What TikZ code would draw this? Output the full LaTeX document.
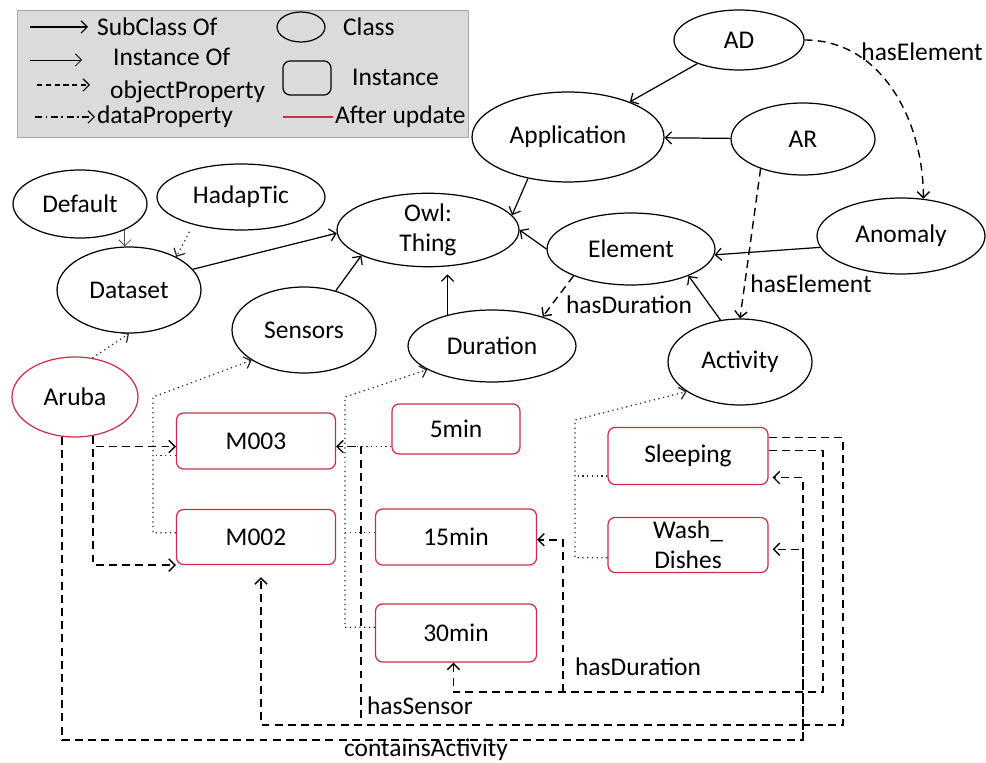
\documentclass[tikz,border=0pt]{standalone}
\usepackage{fontspec}
\setmainfont{Carlito}
\usepackage{tikz}
\usetikzlibrary{shapes}
\usetikzlibrary{calc}
\usetikzlibrary{arrows.meta}
\usetikzlibrary{positioning}
\definecolor{updred}{RGB}{205,45,70}

\begin{document}
\begin{tikzpicture}[x=0.02cm,y=-0.02cm,
    font=\fontsize{14.5}{17}\selectfont,
    >={Straight Barb[length=3.5pt,width=7pt]},
    cls/.style={ellipse,draw,line width=0.7pt,inner sep=0pt,align=center},
    inst/.style={rectangle,rounded corners=4pt,draw=updred,line width=0.7pt,
        inner sep=0pt,align=center},
    subcls/.style={->,line width=0.7pt},
    instof/.style={->,dotted,line width=0.7pt,black!85},
    objprop/.style={->,line width=0.8pt,dash pattern=on 4.5pt off 3pt},
    dataprop/.style={->,line width=0.7pt,dash pattern=on 4pt off 2pt on 1pt off 2pt},
    lbl/.style={inner sep=1pt}]
    \useasboundingbox (0,0) rectangle (986,763);

    % Legend
    \filldraw [fill=black!14,draw=black!35] (17,10) rectangle (468,137);
    \node [lbl,anchor=west] (lgsub) at (95,27) {SubClass Of};
    \node [lbl,anchor=west] (lginof) at (111,57) {Instance Of};
    \node [lbl,anchor=west] (lgobj) at (108,92) {objectProperty};
    \node [lbl,anchor=west] (lgdata) at (95,117) {dataProperty};
    \node [cls,minimum width=0.96cm,minimum height=0.6cm] (lgcls) at (301,27) {};
    \node [lbl,anchor=west] (lgclstxt) at (341,27) {Class};
    \node [inst,draw=black,minimum width=0.96cm,minimum height=0.68cm] (lginst) at (307,78) {};
    \node [lbl,anchor=west] (lginsttxt) at (350,77) {Instance};
    \node [lbl,anchor=west] (lgupd) at (333,117) {After update};
    \coordinate (lgsubs) at (30,27);
    \coordinate (lgsube) at (88,27);
    \coordinate (lginofs) at (30,60);
    \coordinate (lginofe) at (82,60);
    \coordinate (lgobjs) at (37,85);
    \coordinate (lgobje) at (90,85);
    \coordinate (lgdatas) at (35,117);
    \coordinate (lgupds) at (283,117);
    \draw [subcls] (lgsubs) -- (lgsube);
    \draw [->,line width=0.5pt] (lginofs) -- (lginofe);
    \draw [objprop,line width=0.7pt,dash pattern=on 3pt off 2pt] (lgobjs) -- (lgobje);
    \draw [dataprop] (lgdatas) -- (lgdata.west);
    \draw [updred,line width=0.8pt] (lgupds) -- (lgupd.west);

    % Classes
    \node [cls,minimum width=2.6cm,minimum height=1.2cm] (AD) at (739,40) {AD};
    \node [cls,minimum width=3.84cm,minimum height=1.8cm] (App) at (568,137) {Application};
    \node [cls,minimum width=2.88cm,minimum height=1.44cm] (AR) at (803,139) {AR};
    \node [cls,minimum width=3.36cm,minimum height=1.52cm] (Anom) at (901,236) {Anomaly};
    \node [cls,minimum width=3.36cm,minimum height=1.44cm] (Elem) at (631,249) {Element};
    \node [cls,minimum width=3.64cm,minimum height=1.32cm] (Owl) at (428,230) {Owl:\\Thing};
    \node [cls,minimum width=2.68cm,minimum height=1.36cm] (Default) at (80,204) {Default};
    \node [cls,minimum width=3.36cm,minimum height=1.32cm] (Hadap) at (241,197) {HadapTic};
    \node [cls,minimum width=2.88cm,minimum height=1.72cm] (Dataset) at (129,290) {Dataset};
    \node [cls,minimum width=2.88cm,minimum height=1.72cm] (Sensors) at (304,330) {Sensors};
    \node [cls,minimum width=3.36cm,minimum height=1.44cm] (Dur) at (492,346) {Duration};
    \node [cls,minimum width=2.88cm,minimum height=1.72cm] (Act) at (740,362) {Activity};
    \node [cls,draw=updred,minimum width=2.52cm,minimum height=1.6cm] (Aruba) at (75,397) {Aruba};

    % Instances
    \node [inst,minimum width=3.18cm,minimum height=1.12cm] (M003) at (256,441) {M003};
    \node [inst,minimum width=3.18cm,minimum height=1.1cm] (M002) at (256,537) {M002};
    \node [inst,minimum width=2.56cm,minimum height=1.0cm] (m5) at (456,429) {5min};
    \node [inst,minimum width=3.22cm,minimum height=1.12cm] (m15) at (456,537) {15min};
    \node [inst,minimum width=3.22cm,minimum height=1.16cm] (m30) at (456,633) {30min};
    \node [inst,minimum width=3.2cm,minimum height=1.14cm] (Sleep) at (688,456) {Sleeping};
    \node [inst,minimum width=3.2cm,minimum height=1.1cm] (Wash) at (688,545) {Wash\_\\Dishes};

    % SubClass Of
    \draw [subcls] (AD) -- (App);
    \draw [subcls] (AR) -- (App);
    \draw [subcls] (App.226) -- (Owl.10);
    \draw [subcls] (Elem.west) -- (Owl.east);
    \draw [subcls] (Anom.188) -- (Elem.-4);
    \draw [subcls] (Act.115) -- (Elem.-25);
    \draw [subcls] (Dataset.18) -- (Owl.182);
    \draw [subcls] (Sensors.51) -- (Owl.201);
    \draw [subcls,shorten >=0.14cm] (Dur.145) -- (Dur.145 |- Owl.south);

    % Instance Of
    \draw [->,line width=0.5pt,black!70] (Default.-30) -- (Default.-30 |- Dataset.north);
    \draw [instof,shorten <=0.16cm] (Hadap.210) -- (Dataset.35);
    \draw [instof] (Aruba.66) -- (Dataset.south);
    \coordinate (sbar) at (153,397);
    \coordinate (dbar) at (345,397);
    \coordinate (abar) at (575,420);
    \draw [instof] (M002.177) -| (sbar) -- (Sensors.210);
    \draw [instof,-] (M003.-170) -- (M003.-170 -| sbar);
    \draw [instof] (m30.176) -| (dbar) -- (Dur.200);
    \draw [instof,-] (m15.177) -- (m15.177 -| dbar);
    \draw [instof,-] (m5.195) -- (m5.195 -| dbar);
    \draw [instof] (Wash.189) -| (abar) -- (Act.209);
    \draw [instof,-] (Sleep.194) -- (Sleep.194 -| abar);

    % objectProperty
    \draw [objprop] (Elem.205) -- (Dur.30);
    \node [lbl] (lhd1) at (629,305) {hasDuration};
    \draw [objprop] (AR.215) -- (Act.north);
    \node [lbl] (lhe1) at (811,284) {hasElement};
    \draw [objprop] (AD.east) to [out=0,in=90] (Anom.59);
    \node [lbl] (lhe2) at (922,52) {hasElement};

    % hasSensor
    \coordinate (hsR) at (843,725);
    \coordinate (hsJ) at (361,718);
    \draw [objprop] (Aruba.-65) |- (M003.184);
    \draw [objprop] (Aruba.-65) |- (M002.south west);
    \draw [objprop,shorten >=0.24cm] (Sleep.13) -| (hsR) -| (M002.-80);
    \draw [objprop] (hsJ) |- (M003.-4);
    \node [lbl,anchor=west] (lhs) at (365,706) {hasSensor};

    % hasDuration
    \coordinate (hdR) at (823,692);
    \coordinate (hdJ) at (563,692);
    \draw [objprop] (Sleep.4) -| (hdR) -| (m30.-95);
    \draw [objprop] (hdJ) |- (m15.-2);
    \node [lbl,anchor=west] (lhd2) at (573,667) {hasDuration};

    % containsActivity
    \coordinate (caR) at (803,740);
    \draw [objprop,shorten >=0.08cm] (Aruba.-108) |- (caR) |- (Wash.-3);
    \draw [objprop,shorten >=0.08cm] (caR) |- (Sleep.-15);
    \node [lbl,inner sep=0pt] (lca) at (426,750) {containsActivity};
\end{tikzpicture}
\end{document}
